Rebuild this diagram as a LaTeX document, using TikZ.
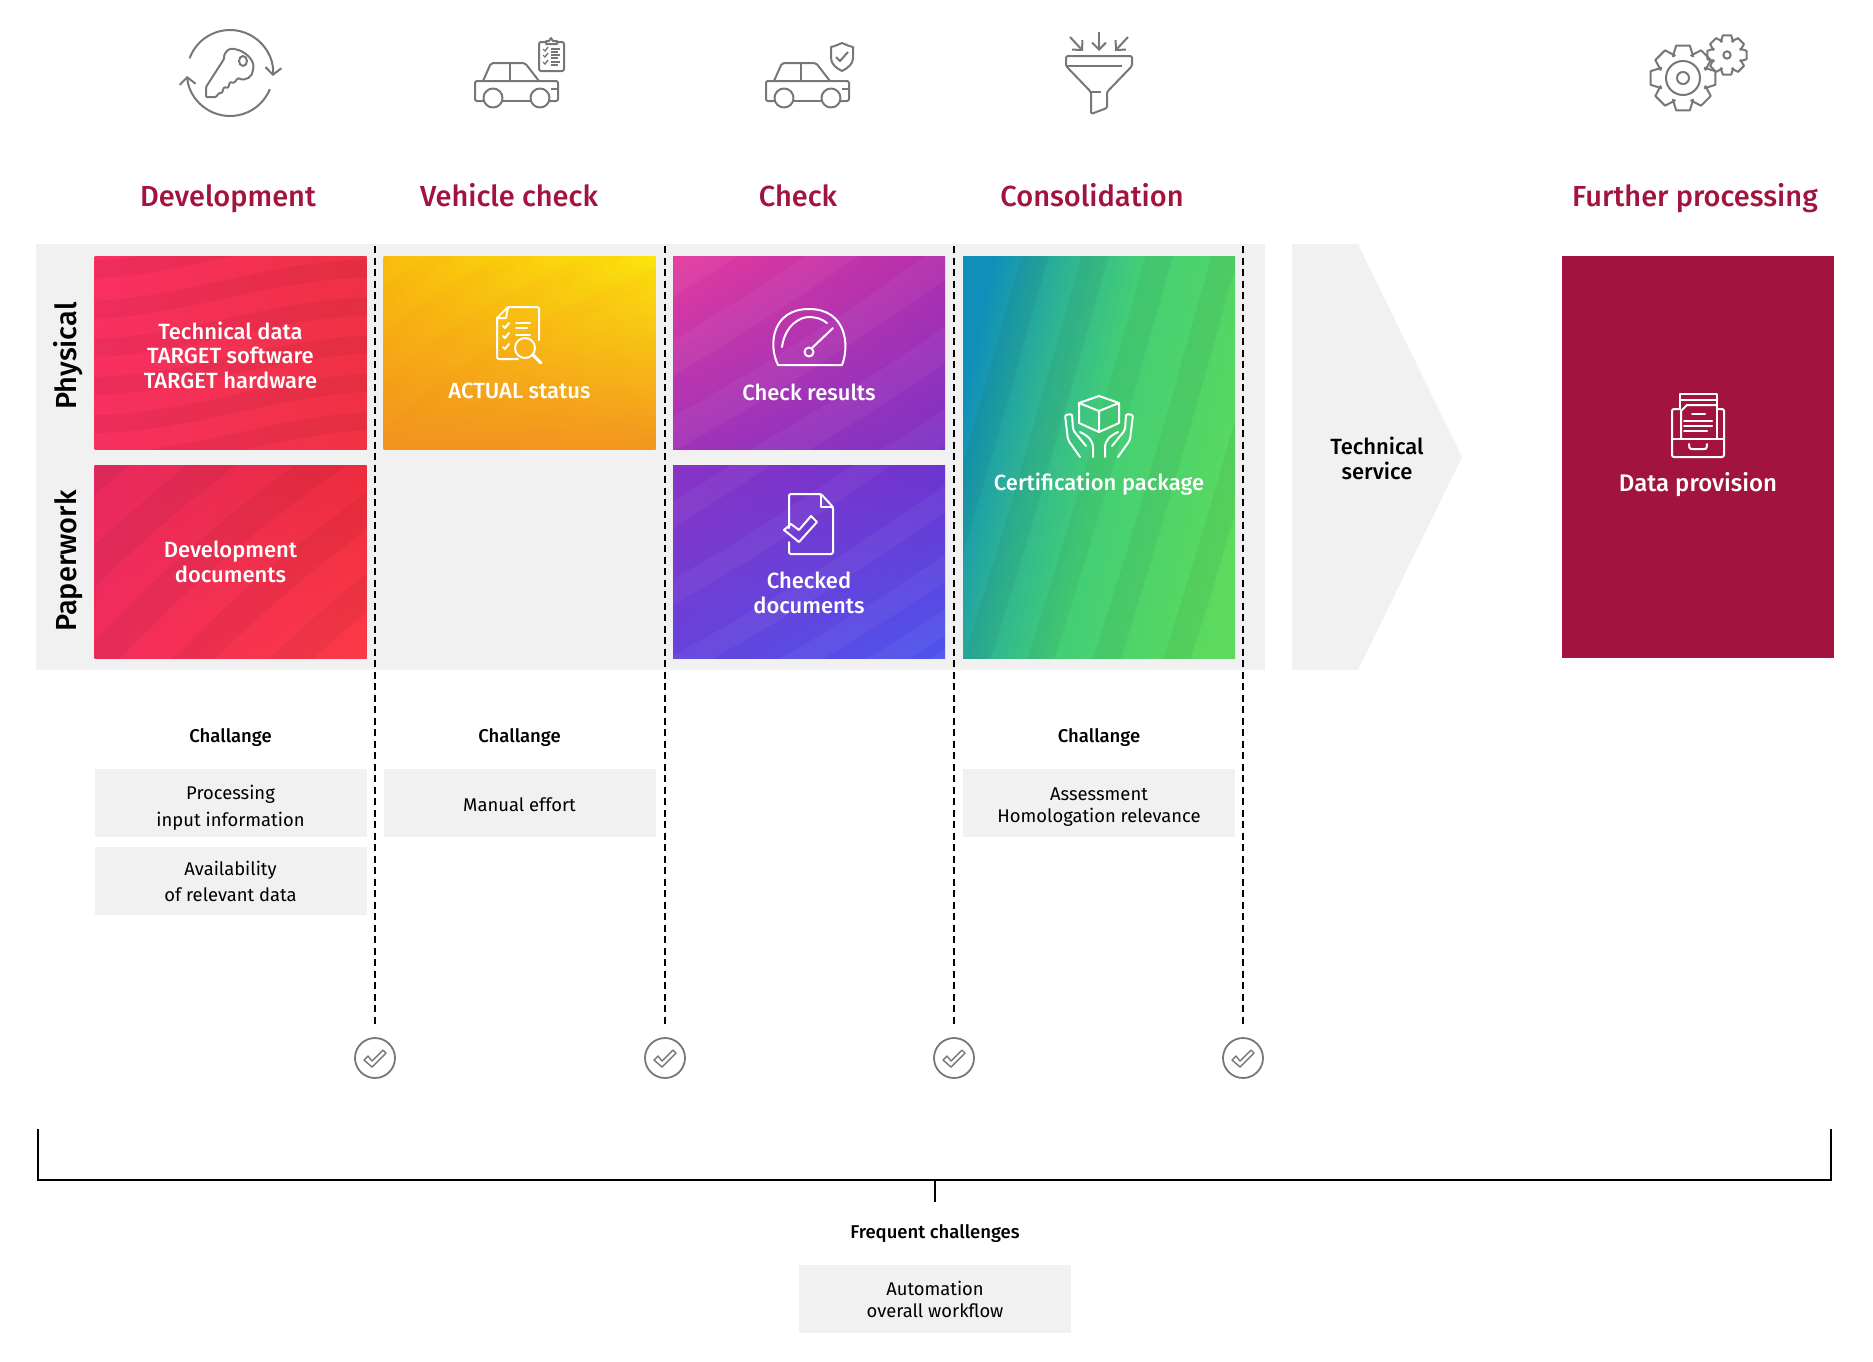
\documentclass[tikz,border=0pt]{standalone}
\usepackage{amsmath}
\usepackage{fontspec}
\usepackage{tikz}
\usetikzlibrary{arrows.meta,shadings}
\setmainfont{Fira Sans}[BoldFont={Fira Sans Medium}]

\definecolor{brandred}{HTML}{A2143F}
\definecolor{bandgray}{HTML}{F1F1F1}
\definecolor{icongray}{HTML}{777777}
\definecolor{greena}{HTML}{0F8FBA}
\definecolor{greenb}{HTML}{2FB492}
\definecolor{greenc}{HTML}{43CE76}
\definecolor{greend}{HTML}{5BDA5E}
\definecolor{reda}{HTML}{FA3062}
\definecolor{redb}{HTML}{EE3044}
\definecolor{redc}{HTML}{F63060}
\definecolor{redd}{HTML}{F03242}
\definecolor{rede}{HTML}{E82A60}
\definecolor{redf}{HTML}{EC2C3C}
\definecolor{redg}{HTML}{F22C5C}
\definecolor{redh}{HTML}{FC3A46}
\definecolor{yela}{HTML}{F9BE0C}
\definecolor{yelb}{HTML}{FBE40C}
\definecolor{yelc}{HTML}{F29220}
\definecolor{yeld}{HTML}{F3951F}
\definecolor{pura}{HTML}{E53A9E}
\definecolor{purb}{HTML}{B22FAD}
\definecolor{purc}{HTML}{A233B8}
\definecolor{purd}{HTML}{7B33C7}
\definecolor{pure}{HTML}{8A33C4}
\definecolor{purf}{HTML}{6E33CF}
\definecolor{purg}{HTML}{6442DC}
\definecolor{purh}{HTML}{4C55EE}

\pgfdeclarehorizontalshading{greenshade}{100bp}{color(0bp)=(greena); color(25bp)=(greena); color(38bp)=(greenb); color(50bp)=(greenc); color(75bp)=(greend); color(100bp)=(greend)}

\newcommand{\tilewaves}[9]{%
    \foreach \wv in {#2} {
        \draw[#1, draw opacity=.045, line width=#5pt, shift={({\wv*#3},{\wv*#4})}] (#6) .. controls (#7) and (#8) .. (#9);
    }}
\newcommand{\wavesover}[2]{%
    \begin{scope}
        \clip (#1.north west) rectangle (#1.south east);
        \begin{scope}[shift={(#1.north west)}]
            #2
        \end{scope}
    \end{scope}}

\tikzset{
    tile/.style={minimum width=272pt, minimum height=193pt, inner sep=0pt, outer sep=0pt},
    tilelabel/.style={text=white, align=center, font=\fontsize{22}{24.5}\selectfont\bfseries},
    headlabel/.style={text=brandred, text height=20pt, text depth=6pt, font=\fontsize{29}{32}\selectfont\bfseries},
    rowlabel/.style={rotate=90, text height=20pt, text depth=6pt, font=\fontsize{29}{32}\selectfont\bfseries},
    titlelabel/.style={text height=14pt, text depth=4pt, font=\fontsize{18.5}{22}\selectfont\bfseries},
    chbox/.style={fill=bandgray, minimum width=272pt, minimum height=68pt, inner sep=0pt, align=center, font=\fontsize{18.4}{22}\selectfont},
    gate/.style={black, line width=2.6pt, dash pattern=on 7pt off 4.5pt, shorten >=12pt},
    gatecheck/.style={circle, draw=icongray, line width=1.8pt, minimum size=40pt, inner sep=0pt},
    iconline/.style={draw=icongray, line width=2pt, line join=round},
    whiteline/.style={draw=white, line width=2pt, line join=round, line cap=round},
    carshape/.pic={
        \draw[iconline, rounded corners=2pt] (9,38) -- (0,38) -- (0,18) -- (83,18) -- (83,38) -- (74,38);
        \draw[iconline] (28,38) -- (56,38);
        \draw[iconline, rounded corners=2pt] (8,18) -- (16,0) -- (50,0) -- (64,18);
        \draw[iconline] (35,0) -- (35,18) (76,26) -- (83,26);
        \draw[iconline] (18,35) circle (9.5pt) (65,35) circle (9.5pt);
    },
    gearwheel/.pic={
        \draw[iconline] (-25:24pt) \foreach \a in {0,45,...,315} { -- ({\a-25}:24pt) -- ({\a-12}:33pt) -- ({\a+12}:33pt) -- ({\a+25}:24pt) } -- cycle;
        \draw[iconline] (0,0) circle (6pt);
    }
}

\begin{document}
\begin{tikzpicture}[x=1pt, y=-1pt]
    \useasboundingbox (0,0) rectangle (1873,1361);

    \node[fill=bandgray, minimum width=1229pt, minimum height=426pt, inner sep=0pt] (band) at (650.5,457) {};
    \fill[bandgray] (1292,244) -- (1358,244) -- (1462,457) -- (1358,670) -- (1292,670) -- cycle;

    \node[tile, shade, upper left=reda, upper right=redb, lower left=redc, lower right=redd] (tech) at (230.5,352.5) {};
    \wavesover{tech}{\tilewaves{black}{-40,0,38,76,114,152,190}{.1}{1}{18}{-15,54}{90,54}{170,12}{290,12}}
    \node[tile, shade, upper left=rede, upper right=redf, lower left=redg, lower right=redh] (devdoc) at (230.5,561.5) {};
    \wavesover{devdoc}{\tilewaves{black}{-160,-100,-40,20,80,140,200}{1}{.6}{30}{-70,240}{40,120}{120,40}{280,-60}}
    \node[tile, shade, upper left=yela, upper right=yelb, lower left=yelc, lower right=yeld] (actual) at (519.5,352.5) {};
    \wavesover{actual}{\tilewaves{orange}{-100,-65,-30,5,40}{.4}{1}{17}{-5,135}{60,70}{150,25}{280,-30}}
    \node[tile, shade, upper left=pura, upper right=purb, lower left=purc, lower right=purd] (results) at (809,352.5) {};
    \wavesover{results}{\tilewaves{white}{-60,0,60,120,180}{1}{.7}{30}{-160,190}{40,85}{120,30}{300,-100}}
    \node[tile, shade, upper left=pure, upper right=purf, lower left=purg, lower right=purh] (checked) at (809,561.5) {};
    \wavesover{checked}{\tilewaves{white}{-40,20,80,130,170,200,225}{1}{.7}{22}{-160,190}{40,85}{120,30}{300,-100}}
    \node[tile, minimum height=402pt, shading=greenshade, shading angle=-12] (package) at (1099,457) {};
    \wavesover{package}{\tilewaves{black}{-90,-30,34,100,170}{1}{0}{26}{40,415}{90,260}{125,130}{165,-10}}
    \node[tile, minimum height=402pt, fill=brandred] (provision) at (1698,457) {};

    \node[headlabel] (hdev) at (228,199.5) {Development};
    \node[headlabel] (hveh) at (509,199.5) {Vehicle check};
    \node[headlabel] (hchk) at (798,199.5) {Check};
    \node[headlabel] (hcon) at (1092,199.5) {Consolidation};
    \node[headlabel] (hfur) at (1695,199.5) {Further processing};

    \node[rowlabel] (rphy) at (69.5,356) {Physical};
    \node[rowlabel] (rpap) at (69.5,561) {Paperwork};

    \node[tilelabel] (ltech) at (230.5,355) {Technical data\\TARGET software\\TARGET hardware};
    \node[tilelabel] (ldev) at (230.5,562) {Development\\documents};
    \node[tilelabel] (lact) at (519.5,391) {ACTUAL status};
    \node[tilelabel] (lres) at (809,392) {Check results};
    \node[tilelabel] (lchk) at (809,593) {Checked\\documents};
    \node[tilelabel] (lpkg) at (1099,484) {Certification package};
    \node[tilelabel, font=\fontsize{24}{27}\selectfont\bfseries] (lpro) at (1698,485) {Data provision};
    \node[align=center, font=\fontsize{22}{25}\selectfont\bfseries] (lsrv) at (1377,458) {Technical\\service};

    \node[titlelabel] (cdev) at (230.5,737) {Challange};
    \node[titlelabel] (cveh) at (519.5,737) {Challange};
    \node[titlelabel] (ccon) at (1099,737) {Challange};
    \node[chbox] (bproc) at (230.5,803) {\rule{0pt}{24pt}Processing\\[5pt]input information};
    \node[chbox] (bavai) at (230.5,881) {Availability\\[4pt]of relevant data};
    \node[chbox] (bman) at (519.5,803) {\rule{0pt}{18pt}Manual effort};
    \node[chbox] (bass) at (1099,803) {\rule{0pt}{21pt}Assessment\\Homologation relevance};
    \node[titlelabel] (lfreq) at (935,1233.5) {Frequent challenges};
    \node[chbox] (bauto) at (935,1299) {Automation\\overall workflow};

    \foreach \n/\x in {a/375,b/665,c/954,d/1243} {
        \coordinate (t\n) at (\x,246);
        \node[gatecheck] (g\n) at (\x,1058) {};
        \path[gate] (t\n) edge (g\n);
        \draw[draw=icongray, line width=1.4pt, line join=round] ([shift={(-11,2)}]g\n.center) -- ++(8,7) -- ++(14,-14) -- ++(-3,-3) -- ++(-11,11) -- ++(-4,-5) -- cycle;
    }

    \coordinate (bl) at (38,1129);
    \coordinate (br) at (1831,1129);
    \coordinate (bm) at (935,1180);
    \coordinate (bt) at (935,1202);
    \draw[line width=2.6pt] (bl) |- (bm) -| (br);
    \draw[line width=2.6pt] (bm) -- (bt);

    \begin{scope}[shift={(230,73)}]
        \draw[iconline, -{Straight Barb[length=7pt,width=16pt]}] (160:43pt) arc[start angle=160, end angle=-4, radius=43pt];
        \draw[iconline, -{Straight Barb[length=7pt,width=16pt]}] (-22:43pt) arc[start angle=-22, end angle=-176, radius=43pt];
        \draw[iconline, rounded corners=1pt] (-24,14) -- (-6,-14) .. controls (-6,-22) and (0,-25) .. (4,-24) .. controls (16,-22) and (25,-12) .. (23,-4) .. controls (23,3) and (16,9) .. (8,5) -- (4,10) -- (0,9) -- (-2,15) -- (-6,14) -- (-8,20) -- (-11,20) -- (-14,24) -- (-24,24) -- cycle;
        \draw[iconline] (13,-12) ellipse (4pt and 5pt);
    \end{scope}

    \pic at (475,63) {carshape};
    \draw[iconline, rounded corners=2pt] (546,42) -- (539,42) -- (539,71) -- (564,71) -- (564,42) -- (557,42);
    \draw[iconline] (546,44) -- (546,41) -- (549,41) -- (551,38) -- (553,41) -- (557,41) -- (557,44) -- cycle;
    \foreach \y in {49,55,62} {
        \draw[icongray, line width=1.4pt] (543,\y) -- (545,\y+2) -- (548,\y-2);
        \draw[icongray, line width=1.6pt] (551,\y) -- (560,\y) (551,\y+3) -- (558,\y+3);
    }

    \pic at (766,63) {carshape};
    \draw[iconline] (831,47) .. controls (836,46) and (839,44) .. (842,43) .. controls (845,44) and (848,46) .. (853,47) -- (853,58) .. controls (853,64) and (848,68) .. (842,71) .. controls (836,68) and (831,64) .. (831,58) -- cycle;
    \draw[iconline] (836,57) -- (840,61) -- (848,52);

    \draw[iconline, rounded corners=1.5pt] (1066,56) -- (1132,56) -- (1132,66) -- (1107,92) -- (1107,108) -- (1091,114) -- (1091,92) -- (1066,66) -- cycle;
    \draw[iconline] (1066,66) -- (1122,66) (1091,92) -- (1101,92);
    \draw[iconline, -{Straight Barb[length=7pt,width=14pt]}] (1099,32) -- (1099,51);
    \draw[iconline, -{Straight Barb[length=7pt,width=14pt]}] (1070,37) -- (1083,51);
    \draw[iconline, -{Straight Barb[length=7pt,width=14pt]}] (1128,37) -- (1115,51);

    \pic at (1683,78) {gearwheel};
    \draw[iconline] (1683,78) circle (17pt);
    \pic[scale=.61] at (1727,55) {gearwheel};

    \begin{scope}[every path/.append style={whiteline}]
        \draw[rounded corners=2pt] (497,318) -- (508,307) -- (539,307) -- (539,340);
        \draw[rounded corners=2pt] (497,318) -- (497,359) -- (518,359);
        \draw (497,318) -- (506,318) -- (508,307);
        \foreach \y in {326,336,347} \draw (503,\y) -- (505,\y+2) -- (509,\y-3);
        \draw (516,323) -- (530,323) (516,328) -- (527,328) (516,335) -- (530,335);
        \draw (525,348) circle (10pt);
        \draw[line width=3pt] (533,355) -- (541,363);

        \draw (778,365) .. controls (768,345) and (772,309) .. (809,309) .. controls (846,309) and (850,345) .. (842,365) -- cycle;
        \draw (782,347) .. controls (785,325) and (800,317) .. (809,317) .. controls (816,317) and (822,319) .. (827,323);
        \draw (809,352) circle (4.5pt);
        \draw (812,348) -- (833,328);

        \draw[rounded corners=2pt] (789,528) -- (789,494) -- (821,494) -- (833,507) -- (833,554) -- (789,554) -- (789,542);
        \draw (821,494) -- (821,507) -- (833,507);
        \draw (784,530) -- (799,542) -- (817,522) -- (811,516) -- (799,530) -- (791,524) -- cycle;

        \draw (1099,396) -- (1119,403) -- (1119,423) -- (1099,432) -- (1079,423) -- (1079,403) -- cycle;
        \draw (1079,403) -- (1099,411) -- (1119,403) (1099,411) -- (1099,432);
        \draw[rounded corners=2pt] (1080,457) -- (1068,440) -- (1065,415) -- (1072,414) -- (1073,430) -- (1086,446);
        \draw (1080,432) .. controls (1088,436) and (1093,440) .. (1093,448) -- (1093,457);
        \draw[rounded corners=2pt] (1118,457) -- (1130,440) -- (1133,415) -- (1126,414) -- (1125,430) -- (1112,446);
        \draw (1118,432) .. controls (1110,436) and (1105,440) .. (1105,448) -- (1105,457);

        \draw[rounded corners=2pt] (1680,409) -- (1672,409) -- (1672,457) -- (1724,457) -- (1724,409) -- (1717,409);
        \draw (1672,439) -- (1724,439);
        \draw (1689,444) .. controls (1689,450) and (1691,449) .. (1693,449) -- (1703,449) .. controls (1705,449) and (1707,450) .. (1707,444);
        \draw (1680,409) -- (1680,394) -- (1717,394) -- (1717,439) (1680,400) -- (1717,400);
        \draw (1681,439) -- (1681,411) -- (1687,405) -- (1717,405);
        \draw (1692,414) -- (1705,414) (1684,421) -- (1712,421) (1684,426) -- (1712,426) (1684,431) -- (1707,431);
    \end{scope}
\end{tikzpicture}
\end{document}
